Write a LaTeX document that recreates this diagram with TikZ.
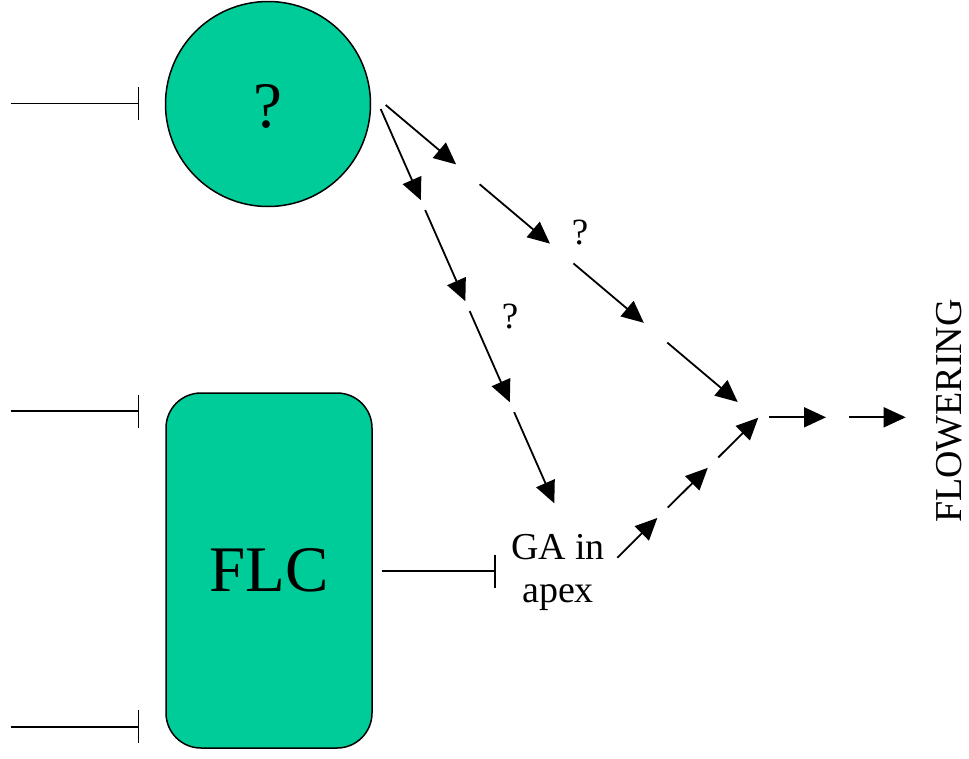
\documentclass[tikz,border=0pt]{standalone}
\usepackage{fontspec}
\setmainfont{Liberation Serif}
\usetikzlibrary{arrows.meta,calc}
\definecolor{tealfill}{HTML}{00CC99}
\begin{document}
\begin{tikzpicture}[x=1pt,y=-1pt,
  blob/.style={draw=black,line width=1.5pt,fill=tealfill},
  act/.style={line width=1.8pt,-{Triangle[length=22pt,width=20pt]}},
  inh/.style={line width=1.6pt,-{Bar[width=33pt,line width=1.6pt]}},
  lbl/.style={font=\fontsize{37}{43}\selectfont,inner sep=0pt},
  big/.style={font=\fontsize{65}{70}\selectfont}]
\useasboundingbox (0,0) rectangle (969,758);
% main nodes
\node[blob,circle,minimum size=205pt,inner sep=0pt] (q) at (268,104) {};
\node[big,inner sep=0pt] (qt) at (268,106) {?};
\node[blob,rectangle,rounded corners=35pt,minimum width=206pt,minimum height=355pt,big] (flc) at (269,570.5) {FLC};
\node[lbl,align=center,font=\fontsize{38}{43}\selectfont] (ga) at (558,572) {GA in\\apex};
\node[lbl] (q1) at (580,233) {?};
\node[lbl] (q2) at (510,317) {?};
\node[lbl,rotate=90,font=\fontsize{38}{43}\selectfont] (fl) at (949,411) {FLOWERING};
% inhibitor inputs
\coordinate (i1s) at (10.7,103.3); \coordinate (i1e) at (139.3,103.3);
\coordinate (i2s) at (10.7,411);   \coordinate (i2e) at (139.3,411);
\coordinate (i3s) at (10.7,726.7); \coordinate (i3e) at (139.3,726.7);
\draw[inh] (i1s) -- (i1e);
\draw[inh] (i2s) -- (i2e);
\draw[inh] (i3s) -- (i3e);
% FLC inhibits GA
\coordinate (fo) at (381.7,571); \coordinate (fi) at (495.7,571);
\draw[inh] (fo) -- (fi);
% left chain (circle -> GA)
\coordinate (l0) at (380.7,109); \coordinate (l1) at (554.3,503.3);
\foreach \s/\e in {0/0.23125, 0.25625/0.4875, 0.5125/0.74375, 0.76875/1}
  \draw[act] ($(l0)!\s!(l1)$) -- ($(l0)!\e!(l1)$);
% right chain (circle -> junction)
\coordinate (r0) at (385.7,105); \coordinate (r1) at (737.7,402);
\foreach \s/\e in {0/0.2, 0.2667/0.4667, 0.5333/0.7333, 0.8/1}
  \draw[act] ($(r0)!\s!(r1)$) -- ($(r0)!\e!(r1)$);
% up chain (GA -> junction)
\coordinate (u0) at (617.3,557.7); \coordinate (u1) at (758.3,417.7);
\foreach \s/\e in {0/0.284, 0.358/0.642, 0.716/1}
  \draw[act] ($(u0)!\s!(u1)$) -- ($(u0)!\e!(u1)$);
% to flowering
\coordinate (h0) at (769.3,417.3); \coordinate (h1) at (826,417.3);
\coordinate (h2) at (849.3,417.3); \coordinate (h3) at (905.7,417.3);
\draw[act] (h0) -- (h1);
\draw[act] (h2) -- (h3);
\end{tikzpicture}
\end{document}
